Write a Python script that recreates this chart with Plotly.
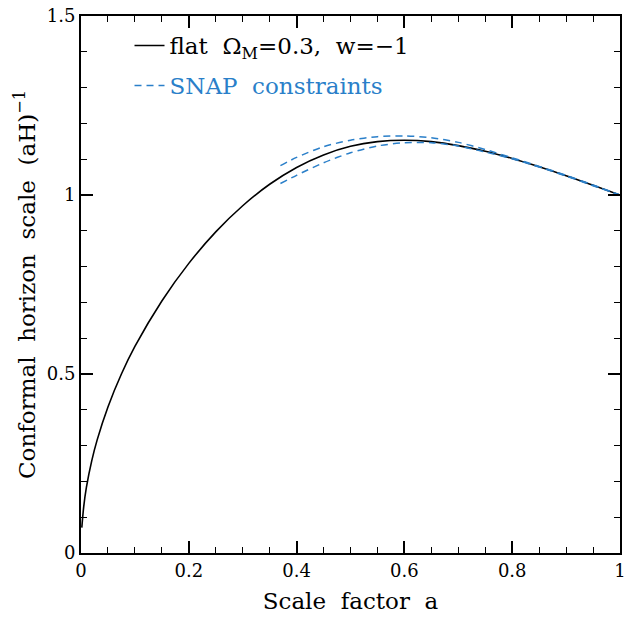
import plotly.graph_objects as go

# flat LCDM curve
a_flat = [0.0015, 0.005, 0.01, 0.02, 0.03, 0.05, 0.075, 0.1, 0.15, 0.2, 0.25, 0.3,
          0.35, 0.4, 0.45, 0.5, 0.55, 0.6, 0.65, 0.7, 0.75, 0.8, 0.85, 0.9, 0.95, 1.0]
h_flat = [0.071, 0.129, 0.183, 0.258, 0.316, 0.408, 0.500, 0.577, 0.704, 0.809, 0.897, 0.970,
          1.030, 1.077, 1.112, 1.136, 1.149, 1.153, 1.149, 1.138, 1.122, 1.102, 1.079, 1.054, 1.027, 1.0]

# SNAP constraint envelope
a_snap = [0.37, 0.4, 0.45, 0.5, 0.55, 0.6, 0.65, 0.7, 0.75, 0.8, 0.85, 0.9, 0.95, 1.0]
h_snap_hi = [1.082, 1.105, 1.135, 1.153, 1.163, 1.165, 1.160, 1.147, 1.127, 1.104, 1.080, 1.055, 1.028, 1.0]
h_snap_lo = [1.032, 1.055, 1.090, 1.118, 1.137, 1.146, 1.146, 1.137, 1.120, 1.101, 1.078, 1.053, 1.026, 1.0]

x_ticks = [0, 0.2, 0.4, 0.6, 0.8, 1]
x_labels = ["0", "0.2", "0.4", "0.6", "0.8", "1"]
y_ticks = [0, 0.5, 1, 1.5]
y_labels = ["0", "0.5", "1", "1.5"]

blue = "#2a7fc9"
font = "DejaVu Serif"
sp = "\u00a0"  # wider word gaps like the original

fig = go.Figure()
fig.add_trace(go.Scatter(x=a_flat, y=h_flat, mode="lines",
                         line=dict(color="black", width=1.6, shape="spline", smoothing=0.8),
                         legendgroup="flat",
                         name="flat%s Ω<sub>M</sub>=0.3,%s w=−1" % (sp, sp)))
fig.add_trace(go.Scatter(x=a_snap, y=h_snap_hi, mode="lines",
                         line=dict(color=blue, width=1.5, dash="7px,5px", shape="spline", smoothing=0.8),
                         legendgroup="snap",
                         name="<span style='color:%s'>SNAP%s constraints</span>" % (blue, sp)))
fig.add_trace(go.Scatter(x=a_snap, y=h_snap_lo, mode="lines",
                         line=dict(color=blue, width=1.5, dash="7px,5px", shape="spline", smoothing=0.8),
                         legendgroup="snap", showlegend=False))

axis_common = dict(showgrid=False, zeroline=False, showline=True, linecolor="black", linewidth=2,
                   mirror="ticks", ticks="inside", ticklen=12, tickwidth=1.5, tickcolor="black",
                   automargin=False, ticklabeloverflow="allow",
                   tickfont=dict(family=font, size=18, color="black"))

fig.update_xaxes(range=[0, 1], tickvals=x_ticks, ticktext=x_labels,
                 minor=dict(ticks="inside", dtick=0.05, ticklen=6, tickwidth=1.2, tickcolor="black"),
                 title=dict(text="Scale%s factor%s a" % (sp, sp), standoff=13,
                            font=dict(family=font, size=23, color="black")),
                 **axis_common)
fig.update_yaxes(range=[0, 1.5], tickvals=y_ticks, ticktext=y_labels,
                 minor=dict(ticks="inside", dtick=0.1, ticklen=6, tickwidth=1.2, tickcolor="black"),
                 title=dict(text="Conformal%s horizon%s scale%s (aH)<sup>−1</sup>" % (sp, sp, sp),
                            standoff=5, font=dict(family=font, size=23, color="black")),
                 **axis_common)

fig.update_layout(width=641, height=619, plot_bgcolor="white", paper_bgcolor="white",
                  margin=dict(l=81, r=21, t=16, b=66),
                  font=dict(family=font, color="black"),
                  legend=dict(x=0.09, y=0.985, xanchor="left", yanchor="top", bgcolor="rgba(0,0,0,0)",
                              font=dict(family=font, size=23, color="black"), itemwidth=30,
                              traceorder="grouped", tracegroupgap=7))

# drop the default 8px page margin so the figure fills the window
fig.write_html("out.html", config={"displayModeBar": False},
               post_script="document.body.style.margin='0';")
